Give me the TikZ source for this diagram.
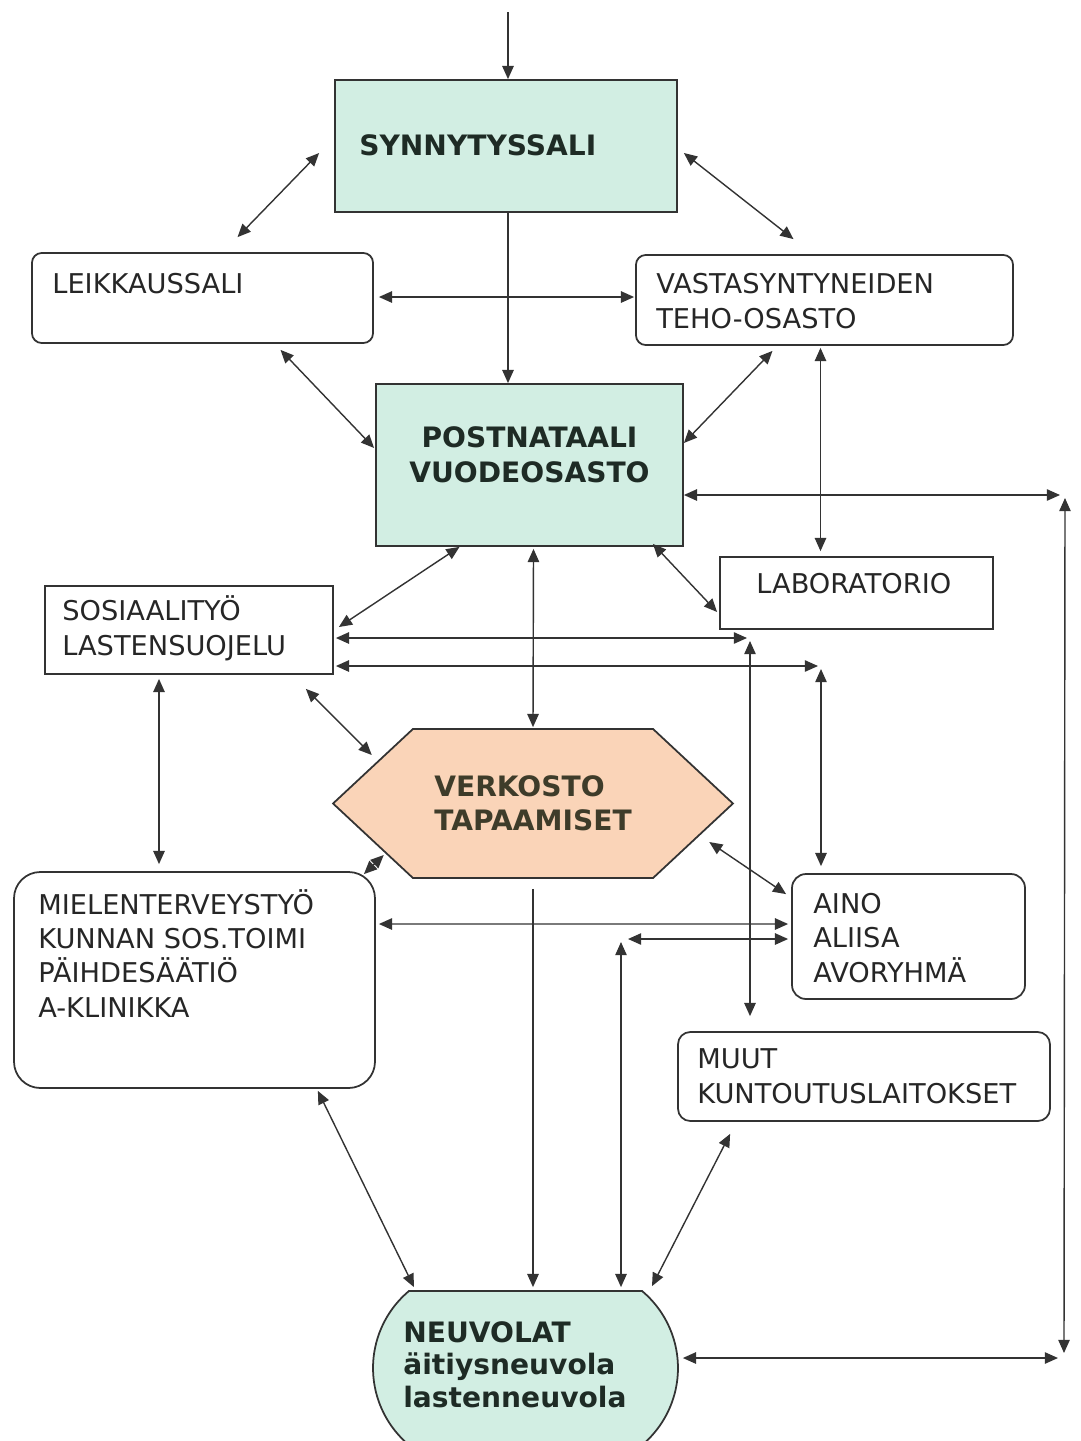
\documentclass[tikz,border=0pt]{standalone}
\usepackage{fontspec}
\setmainfont{DejaVu Sans}
\usepackage{xcolor}
\usetikzlibrary{positioning, arrows.meta, fit, calc, shapes.misc, shapes.symbols}

\definecolor{wardgreen}{HTML}{D2EEE3}
\definecolor{meetpeach}{HTML}{FAD4B8}
\definecolor{edgegray}{HTML}{333333}
\definecolor{inkgray}{HTML}{262626}
\definecolor{headink}{HTML}{1E2B25}

\begin{document}
\begin{tikzpicture}[x=0.02cm, y=-0.02cm, >={Triangle[length=7.5pt, width=6.5pt]},
      unit/.style={draw=edgegray, line width=1pt, inner sep=0pt},
      ward/.style={unit, fill=wardgreen, text=headink, align=center,
        font=\fontsize{16pt}{20pt}\selectfont\bfseries},
      service/.style={unit, rounded corners=5.5pt},
      caption/.style={anchor=base west, align=left, inner sep=0pt, text=inkgray,
        font=\fontsize{15.5pt}{19.4pt}\selectfont},
      heading/.style={caption, text=headink, font=\fontsize{16pt}{18.5pt}\selectfont\bfseries},
      link/.style={<->, draw=edgegray, line width=0.8pt},
      flow/.style={->, draw=edgegray, line width=0.8pt}]

    \useasboundingbox (0,0) rectangle (1081,1441);

    % units
    \node[ward, fit={(335,80) (677,212)}] (syn) {};
    \node[service, fit={(32,253) (373,343)}] (leik) {};
    \node[service, fit={(636,255) (1013,345)}] (vast) {};
    \node[ward, fit={(376,384) (683,546)}] (post) {POSTNATAALI\\VUODEOSASTO};
    \node[unit, fit={(720,557) (993,629)}] (lab) {};
    \node[unit, fit={(45,586) (333,674)}] (sos) {};
    \node[unit, signal, signal to=west and east, signal pointer angle=86, fill=meetpeach,
      minimum width=8cm, minimum height=2.98cm, align=left, text=headink!80!brown,
      font=\fontsize{16pt}{19.4pt}\selectfont\bfseries] (verk) at (533,803.5) {VERKOSTO\\TAPAAMISET};
    \node[service, rounded corners=15pt, fit={(14,872) (375,1088)}] (miel) {};
    \node[service, rounded corners=8pt, fit={(792,874) (1025,999)}] (aino) {};
    \node[service, rounded corners=7pt, fit={(678,1032) (1050,1121)}] (muut) {};
    \node[unit, rounded rectangle, rounded rectangle arc length=100, fill=wardgreen,
      minimum width=6.1cm, minimum height=3.08cm] (neuv) at (525.5,1368) {};

    % texts (base = last line)
    \node[heading] (syn-t) at (359,155) {SYNNYTYSSALI};
    \node[caption] (leik-t) at (52,293) {LEIKKAUSSALI};
    \node[caption] (vast-t) at (656,328) {VASTASYNTYNEIDEN\\TEHO-OSASTO};
    \node[caption] (lab-t) at (756,593) {LABORATORIO};
    \node[caption] (sos-t) at (62,655) {SOSIAALITYÖ\\LASTENSUOJELU};
    \node[caption] (miel-t) at (38,1017) {MIELENTERVEYSTYÖ\\KUNNAN SOS.TOIMI\\PÄIHDESÄÄTIÖ\\A-KLINIKKA};
    \node[caption] (aino-t) at (813,982) {AINO\\ALIISA\\AVORYHMÄ};
    \node[caption] (muut-t) at (697,1103) {MUUT\\KUNTOUTUSLAITOKSET};
    \node[heading] (neuv-t) at (403,1407) {NEUVOLAT\\äitiysneuvola\\lastenneuvola};

    % corners of the long connectors
    \coordinate (entry) at (508,12);
    \coordinate (c1) at (750,638);
    \coordinate (c2) at (821,666);
    \coordinate (c3) at (621,939);
    \coordinate (rtop) at (1065,495);
    \coordinate (rbot) at (1064,1358);

    \draw[flow] (entry) -- (entry |- syn.north);
    \draw[link] ($(syn.west)+(-15,7)$) -- ($(leik.north)+(35,-15)$);
    \draw[link] ($(syn.east)+(6,7)$) -- ($(vast.north)+(-31,-15)$);
    \draw[link] ($(leik.east)+(5,-1)$) -- ($(vast.west)+(-1,-3)$);
    \draw[flow] (entry |- syn.south) -- (entry |- post.north);
    \draw[link] ($(leik.south)+(78,6)$) -- ($(post.west)+(-1,-17)$);
    \draw[link] ($(vast.south)+(-52,5)$) -- ($(post.east)+(0,-22)$);
    \draw[link] ($(vast.south)+(-4,2)$) -- ($(lab.north)+(-36,-5)$);
    \draw[link] ($(post.east)+(0,30)$) -- ($(rtop)+(-5,0)$);
    \draw[link] ($(rtop)+(0,3)$) -- ($(rbot)+(0,-5)$);
    \draw[link] ($(neuv.east)+(4,-10)$) -- ($(rbot)+(-6,0)$);
    \draw[link] ($(post.south)+(-70,0)$) -- ($(sos.east)+(5,-3)$);
    \draw[link] ($(post.south)+(4,2)$) -- ($(verk.north)+(0,-1)$);
    \draw[link] ($(post.south east)+(-31,-3)$) -- ($(lab.west)+(-2,19)$);
    \draw[link] ($(sos.east)+(2,8)$) -- ($(c1)+(-3,0)$);
    \draw[link] ($(c1)+(0,3)$) -- ($(c1 |- muut.north)+(0,-15)$);
    \draw[link] ($(sos.east)+(2,36)$) -- ($(c2)+(-3,0)$);
    \draw[link] ($(c2)+(0,3)$) -- ($(c2 |- aino.north)+(0,-7)$);
    \draw[link] ($(sos.south)+(-30,4)$) -- ($(sos.south |- miel.north)+(-30,-7)$);
    \draw[link] ($(sos.south east)+(-28,14)$) -- ($(verk.west)+(40,-48.5)$);
    \draw[link] ($(verk.west)+(52,51.5)$) -- ($(miel.north east)+(-12,3)$);
    \draw[link] ($(verk.east)+(-25,38.5)$) -- ($(aino.north west)+(-5,21)$);
    \draw[link] ($(miel.east)+(3,-56)$) -- ($(aino.west)+(-3,-12.5)$);
    \draw[link] ($(aino.west)+(-3,2.5)$) -- ($(c3)+(7,0)$);
    \draw[link] ($(c3)+(0,3)$) -- ($(c3 |- neuv.north)+(0,-3)$);
    \draw[flow] ($(verk.south)+(0,10)$) -- ($(verk.south |- neuv.north)+(0,-3)$);
    \draw[link] ($(miel.south east)+(-58,2)$) -- ($(neuv.north)+(-111.5,-3)$);
    \draw[link] ($(muut.south west)+(53,12)$) -- ($(neuv.north)+(126.5,-4)$);
  \end{tikzpicture}
\end{document}
